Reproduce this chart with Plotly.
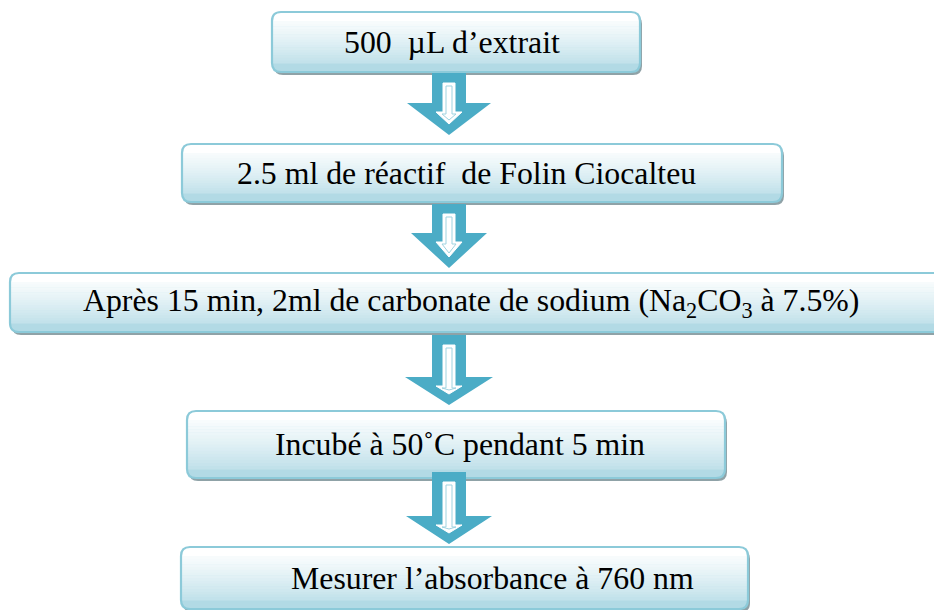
import plotly.graph_objects as go

# ---- content ----
step_labels = [
    "500\u00a0 \u00b5L d\u2019extrait",
    "2.5 ml de r\u00e9actif\u00a0 de Folin Ciocalteu",
    "Apr\u00e8s 15 min, 2ml de carbonate de sodium (Na<sub>2</sub>CO<sub>3</sub> \u00e0 7.5%)",
    "Incub\u00e9 \u00e0 50\u02daC pendant 5 min",
    "Mesurer l\u2019absorbance \u00e0 760 nm",
]

# ---- layout geometry (pixels, page coordinates) ----
W, H = 942, 610
OFF = 8  # page body margin
FW, FH = W - OFF, H - OFF
box_x0 = [272, 182, 10, 187, 181]
box_x1 = [640, 782, 960, 725, 748]
box_y0 = [12, 144, 273, 411, 547]
box_y1 = [72, 202, 332, 478, 609]
text_x = [452, 466, 471, 460, 492]

arrow_top = [73, 204, 335, 472]
arrow_yh = [103, 233, 377, 516]
arrow_tip = [135, 268, 405, 544]
arrow_hw = [42, 38, 44, 43]
stem_hw = 17
cx = 449

TOP_C = (255, 255, 255)
BOT_C = (178, 218, 229)
BORDER = "#8ccad9"
SHADOW = "#8fa2a7"
ARROW = "#4bacc6"


def rpath(x0, y0, x1, y1, r, top=True, bottom=True):
    p = []
    if top:
        p.append(f"M{x0+r},{y0} L{x1-r},{y0} Q{x1},{y0} {x1},{y0+r}")
    else:
        p.append(f"M{x0},{y0} L{x1},{y0}")
    if bottom:
        p.append(f"L{x1},{y1-r} Q{x1},{y1} {x1-r},{y1} L{x0+r},{y1} Q{x0},{y1} {x0},{y1-r}")
    else:
        p.append(f"L{x1},{y1} L{x0},{y1}")
    if top:
        p.append(f"L{x0},{y0+r} Q{x0},{y0} {x0+r},{y0} Z")
    else:
        p.append("Z")
    return " ".join(p)


def mix(t):
    c = [round(TOP_C[i] + (BOT_C[i] - TOP_C[i]) * t) for i in range(3)]
    return f"rgb({c[0]},{c[1]},{c[2]})"


shapes = []
r = 9
for x0, x1, y0, y1 in zip(box_x0, box_x1, box_y0, box_y1):
    shapes.append(dict(type="path", path=rpath(x0 + 2, y0 + 3, x1 + 2, y1 + 3, r),
                       fillcolor=SHADOW, line=dict(width=0), layer="above"))
    shapes.append(dict(type="path", path=rpath(x0, y0, x1, y1, r),
                       fillcolor=mix(1.0), line=dict(width=0), layer="above"))
    shapes.append(dict(type="path", path=rpath(x0, y0, x1, y0 + r + 1, r, bottom=False),
                       fillcolor=mix(0.0), line=dict(width=0), layer="above"))
    ya = y0 + r
    yb = y1 - r
    n = 16
    step = (yb - ya) / n
    for k in range(n):
        t2 = ((y0 + r + step * (k + 0.5)) - y0) / (y1 - y0)
        shapes.append(dict(type="rect", x0=x0, x1=x1, y0=ya + step * k, y1=ya + step * (k + 1) + 0.6,
                           fillcolor=mix(min(1, t2 ** 1.3)), line=dict(width=0), layer="above"))
    shapes.append(dict(type="path", path=rpath(x0, y0, x1, y1, r),
                       fillcolor="rgba(0,0,0,0)", line=dict(color=BORDER, width=2.2), layer="above"))

for ytop, yh, ytip, hw in zip(arrow_top, arrow_yh, arrow_tip, arrow_hw):
    p = (f"M{cx-stem_hw},{ytop} L{cx+stem_hw},{ytop} L{cx+stem_hw},{yh} L{cx+hw},{yh} "
         f"L{cx},{ytip} L{cx-hw},{yh} L{cx-stem_hw},{yh} Z")
    shapes.append(dict(type="path", path=p, fillcolor=ARROW, line=dict(width=0), layer="above"))
    iw, ihw = 6, 13
    it, ih, itp = ytop + 10, yh + 9, ytip - 11
    ip = (f"M{cx-iw},{it} L{cx+iw},{it} L{cx+iw},{ih} L{cx+ihw},{ih} "
          f"L{cx},{itp} L{cx-ihw},{ih} L{cx-iw},{ih} Z")
    shapes.append(dict(type="path", path=ip, fillcolor="white", line=dict(color="white", width=1), layer="above"))
    iw2, ihw2 = 3, 7
    ip2 = (f"M{cx-iw2},{it+3} L{cx+iw2},{it+3} L{cx+iw2},{ih+2} L{cx+ihw2},{ih+2} "
           f"L{cx},{itp-4} L{cx-ihw2},{ih+2} L{cx-iw2},{ih+2} Z")
    shapes.append(dict(type="path", path=ip2, fillcolor="rgba(0,0,0,0)",
                       line=dict(color="#9fd3e0", width=1), layer="above"))

annotations = []
for lab, tx, y0, y1 in zip(step_labels, text_x, box_y0, box_y1):
    annotations.append(dict(x=tx, y=(y0 + y1) / 2, text=lab, showarrow=False,
                            xanchor="center", yanchor="middle",
                            font=dict(family="Liberation Serif, Times New Roman, serif", size=31.8, color="black")))

fig = go.Figure()
fig.add_trace(go.Scatter(x=[OFF, W], y=[OFF, H], mode="markers", marker=dict(opacity=0),
                         hoverinfo="skip", showlegend=False))
fig.update_layout(
    width=FW, height=FH, margin=dict(l=0, r=0, t=0, b=0),
    paper_bgcolor="white", plot_bgcolor="white",
    xaxis=dict(range=[OFF, W], visible=False, fixedrange=True),
    yaxis=dict(range=[H, OFF], visible=False, fixedrange=True),
    shapes=shapes, annotations=annotations, showlegend=False,
)
fig.write_html("out.html")
